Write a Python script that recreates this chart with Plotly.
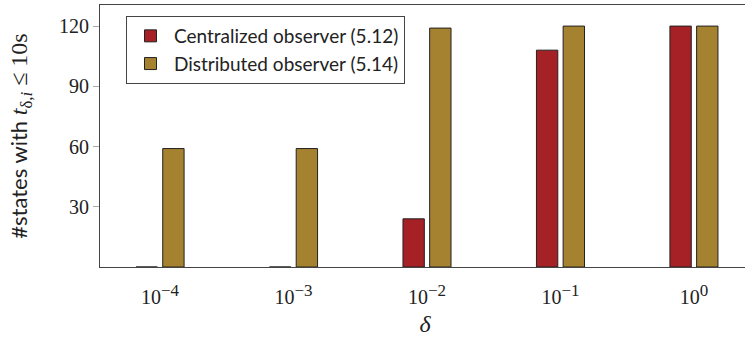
import plotly.graph_objects as go

categories = ["1e-4", "1e-3", "1e-2", "1e-1", "1e0"]
exponents = ["−4", "−3", "−2", "−1", "0"]
tick_labels = ['10<sup><span style="font-size:17px">%s</span></sup>' % e for e in exponents]
centralized = [0, 0, 24, 108, 120]
distributed = [59, 59, 119, 120, 120]
series_names = ["Centralized observer (5.12)", "Distributed observer (5.14)"]
y_ticks = [30, 60, 90, 120]

RED = "#A52126"
GOLD = "#A58230"
SERIF = "Liberation Serif, Times New Roman, serif"
SANS = "Lato, Open Sans, sans-serif"

fig = go.Figure()
fig.add_trace(go.Bar(x=categories, y=centralized, name=series_names[0],
                     marker=dict(color=RED, line=dict(color="#222", width=1))))
fig.add_trace(go.Bar(x=categories, y=distributed, name=series_names[1],
                     marker=dict(color=GOLD, line=dict(color="#222", width=1))))

ytitle = ('<span style="font-family:Lato;font-size:22px">#states with </span>'
          '<i>t</i><sub>δ,<i>i</i></sub> ≤ 10s')

fig.update_layout(
    width=750, height=340,
    margin=dict(l=100, r=0, t=5, b=73),
    plot_bgcolor="white", paper_bgcolor="white",
    barmode="group", bargap=0.6, bargroupgap=0.2,
    showlegend=True,
    legend=dict(x=0.04, y=0.958, xanchor="left", yanchor="top",
                bgcolor="white", bordercolor="#444", borderwidth=1,
                font=dict(family=SANS, size=19, color="#222"),
                itemwidth=37, tracegroupgap=2),
    xaxis=dict(type="category", range=[-0.45, 4.42],
               tickvals=categories, ticktext=tick_labels,
               showline=True, linecolor="#444", linewidth=1, mirror=True,
               ticks="outside", ticklen=12, tickcolor="rgba(0,0,0,0)", showgrid=False,
               tickfont=dict(family=SERIF, size=20, color="#222"),
               title=dict(text="<i>δ</i>", font=dict(family=SERIF, size=24, color="#222"), standoff=8)),
    yaxis=dict(range=[0, 130.5], tickvals=y_ticks,
               showline=True, linecolor="#444", linewidth=1,
               ticks="outside", ticklen=6, tickcolor="#aaa",
               showgrid=False, zeroline=False,
               tickfont=dict(family=SERIF, size=20, color="#222"),
               title=dict(text=ytitle, font=dict(family=SERIF, size=24, color="#222"), standoff=24)),
)

fig.write_html("out.html", config={"displayModeBar": False},
               post_script="document.body.style.margin='0';document.body.style.overflow='hidden';")
